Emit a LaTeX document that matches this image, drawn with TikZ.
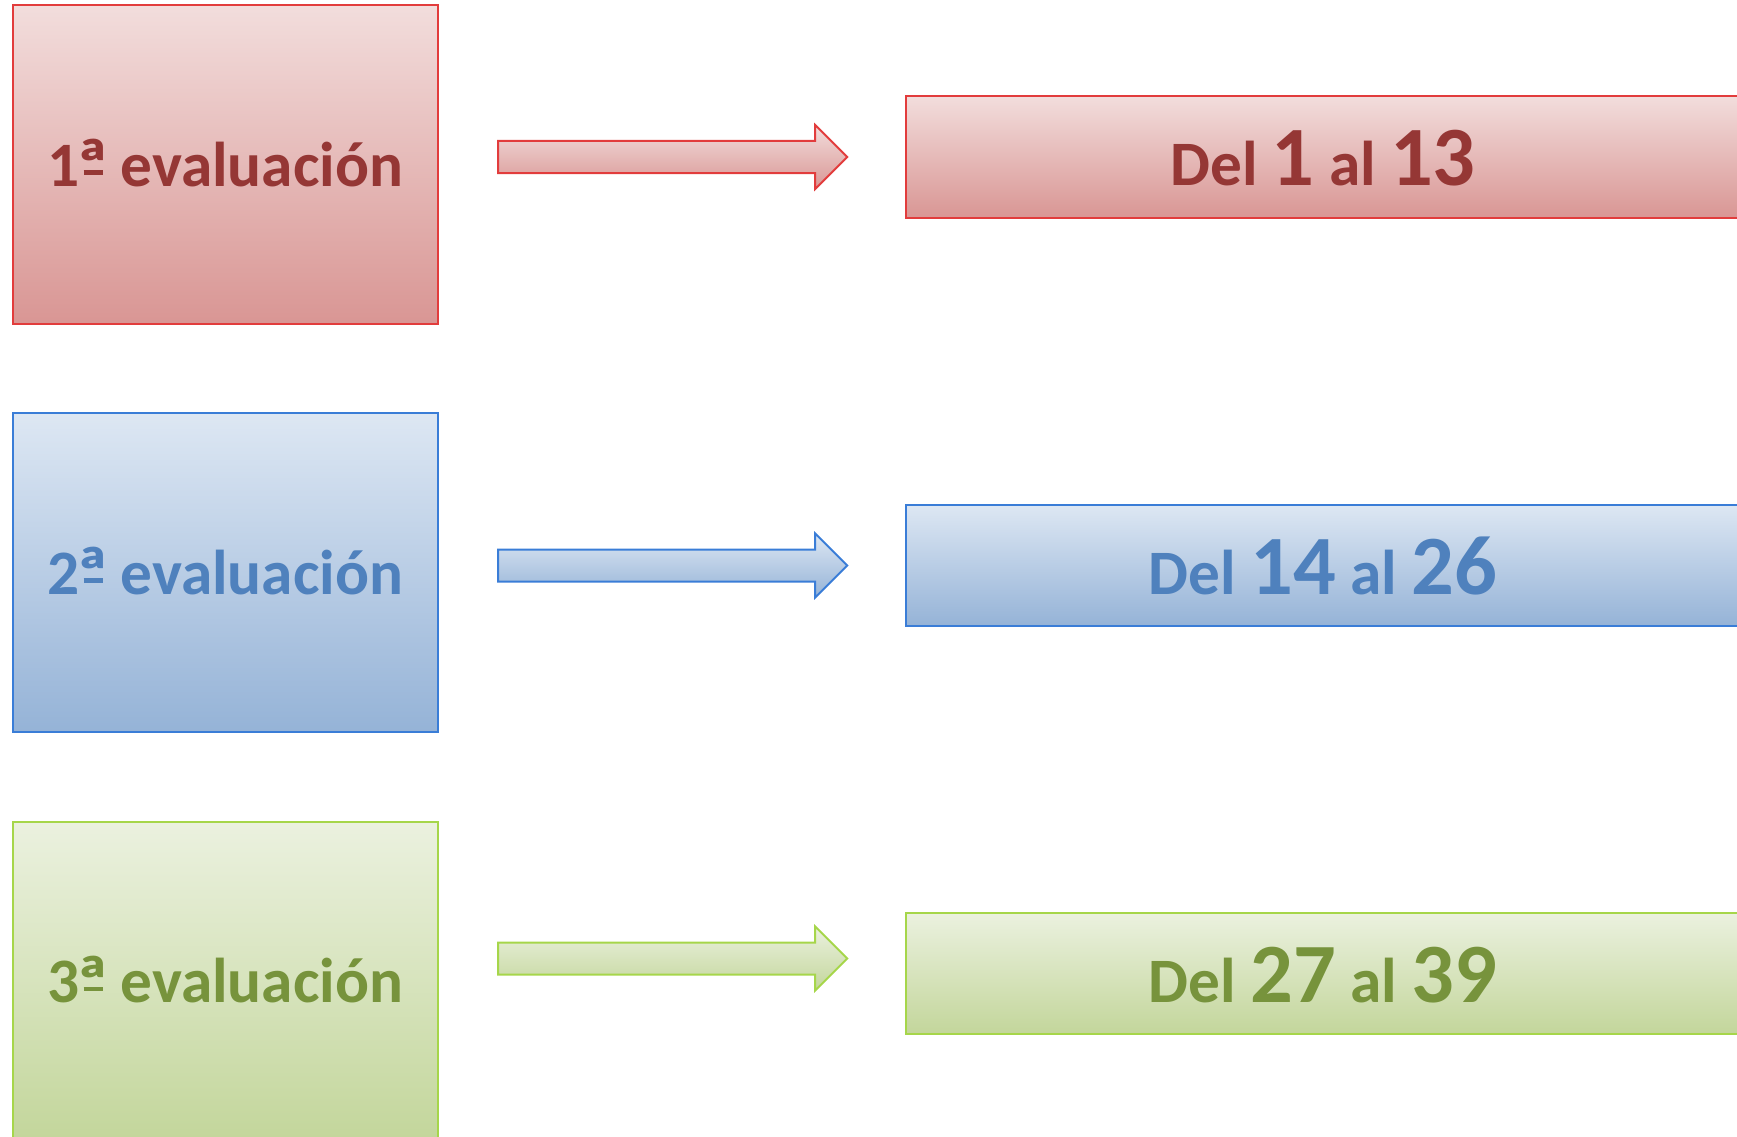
\documentclass[tikz,border=0pt]{standalone}
\usepackage{graphicx}
\usepackage{fontspec}
\setmainfont{Carlito}
\usetikzlibrary{shapes.arrows}

% colours of the three rows
\definecolor{redline}{RGB}{226,60,60}
\definecolor{redtext}{RGB}{149,55,53}
\definecolor{redtop}{RGB}{242,221,220}
\definecolor{redmid}{RGB}{236,201,200}
\definecolor{redbot}{RGB}{217,150,148}
\definecolor{blueline}{RGB}{58,125,215}
\definecolor{bluetext}{RGB}{79,129,189}
\definecolor{bluetop}{RGB}{221,231,243}
\definecolor{bluemid}{RGB}{199,215,234}
\definecolor{bluebot}{RGB}{149,179,215}
\definecolor{greenline}{RGB}{166,214,74}
\definecolor{greentext}{RGB}{119,147,60}
\definecolor{greentop}{RGB}{235,241,223}
\definecolor{greenmid}{RGB}{222,233,199}
\definecolor{greenbot}{RGB}{195,214,155}

% big numbers inside the range boxes
\newcommand{\bignum}[1]{{\fontsize{24}{29}\selectfont #1}}
% ordinal sign with its bar underneath
\newcommand{\ordmark}[1]{\sbox0{#1}%
  \makebox[\wd0][c]{\raisebox{-0.06em}{\scalebox{1.3}[1.15]{#1}}}\kern-\wd0%
  \makebox[\wd0][c]{\raisebox{0.18em}{\rule{0.3em}{0.07em}}}}

\begin{document}
\begin{tikzpicture}[x=0.01cm,y=-0.01cm,
  shaded/.style={draw=#1line,line width=0.02cm,top color=#1top,middle color=#1mid,bottom color=#1bot,text=#1text,inner sep=0pt},
  evalbox/.style={shaded=#1,rectangle,minimum width=4.24cm,minimum height=3.18cm,text height=0.43cm,text depth=0pt,font=\fontsize{18}{22}\selectfont\bfseries},
  rangebox/.style={shaded=#1,rectangle,minimum width=8.34cm,minimum height=1.21cm,text height=0.57cm,text depth=0pt,font=\fontsize{18}{22}\selectfont\bfseries},
  bigarrow/.style={shaded=#1,single arrow,anchor=tail,minimum height=3.49cm,minimum width=0.62cm,text height=0.30cm,text depth=0pt,single arrow head extend=0.16cm,single arrow tip angle=90}]

% page size, boxes run past the edges
\useasboundingbox (0,0) rectangle (1737,1136);
\clip (0,0) rectangle (1737,1136);

% 1a evaluacion
\node[evalbox=red] (eval1) at (225.5,164.5) {1\ordmark{ª} evaluación};
\node[bigarrow=red] (arrow1) at (497,157) {};
\node[rangebox=red] (range1) at (1323,157) {Del \bignum{1} al \bignum{13}};

% 2a evaluacion
\node[evalbox=blue] (eval2) at (225.5,572.5) {2\ordmark{ª} evaluación};
\node[bigarrow=blue] (arrow2) at (497,565.5) {};
\node[rangebox=blue] (range2) at (1323,565.5) {Del \bignum{14} al \bignum{26}};

% 3a evaluacion
\node[evalbox=green] (eval3) at (225.5,981) {3\ordmark{ª} evaluación};
\node[bigarrow=green] (arrow3) at (497,958.5) {};
\node[rangebox=green] (range3) at (1323,973.5) {Del \bignum{27} al \bignum{39}};

\end{tikzpicture}
\end{document}
